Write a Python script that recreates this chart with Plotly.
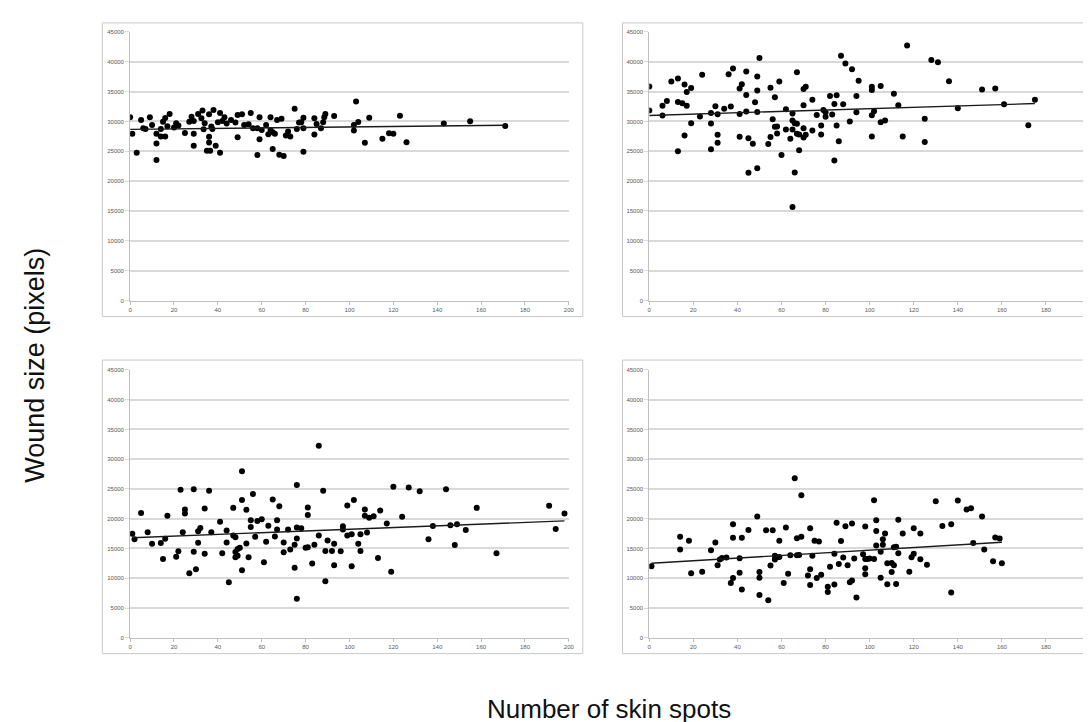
import numpy as np
import plotly.graph_objects as go

# ---- data ----
p1_x = [0, 1, 3, 5, 6, 7, 9, 10, 12, 12, 12, 14, 14, 15, 16, 16, 17, 18, 20, 21, 22, 25, 27, 28, 29, 29, 29,
        31, 32.5, 33, 33.5, 34, 35, 36, 36, 36, 36.5, 37, 37.5, 38, 39, 40, 41, 41, 42, 43, 44, 46, 48, 49, 49,
        51, 52, 54, 55, 56, 58, 58, 59, 59, 60, 62, 63, 64, 64, 65, 65, 66, 67, 68, 69, 70, 71, 72, 73, 75, 76,
        77, 78, 79, 79, 79, 84, 84, 85, 87, 88, 88.5, 89, 93, 102, 102, 103, 104, 107, 109, 115, 118, 120, 123,
        126, 143, 155, 171]
p1_y = [30680, 27920, 24770, 30240, 28860, 28750, 30680, 29410, 27920, 26310, 23550, 28750, 27470, 29960, 30570,
        27470, 29190, 31230, 28970, 29690, 29300, 28080, 29960, 30790, 30070, 27920, 25930, 31230, 30510, 31840,
        28690, 29690, 25100, 31180, 27420, 26480, 25100, 29130, 28750, 31900, 25930, 29850, 24770, 31400, 30070,
        30680, 29630, 30240, 29800, 31070, 27360, 31180, 29410, 29520, 31400, 28860, 24380, 28860, 30680, 27030,
        28580, 29410, 27860, 30680, 28580, 25370, 28190, 27920, 30240, 24430, 30460, 24210, 27640, 28300, 27470,
        32120, 28750, 29800, 29850, 28860, 24930, 30620, 30510, 27810, 29580, 28860, 29850, 30680, 31230, 30900,
        28470, 29410, 33330, 29910, 26420, 30620, 27090, 28030, 27920, 30960, 26530, 29630, 30020, 29240]

p2_x = [0, 0, 6, 6, 8, 10, 13, 13, 13, 15, 16, 16, 17, 17, 19, 19, 23, 24, 28, 28, 28, 30, 31, 31, 31, 34, 36,
        37, 38, 41, 41, 41, 42, 44, 44, 44, 45, 45, 47, 48, 49, 49, 49, 49, 50, 54, 55, 55, 56, 57, 57, 58, 58,
        59, 60, 62, 62, 64, 65, 65, 65, 65, 66, 66, 67, 67, 67, 68, 68, 70, 70, 70, 70, 71, 71, 74, 74, 76, 78,
        78, 79, 80, 80, 82, 83, 84, 84, 85, 85, 86, 87, 88, 89, 91, 92, 94, 94, 95, 101, 101, 101, 101, 102,
        105, 105, 107, 111, 113, 115, 117, 125, 125, 128, 131, 136, 140, 151, 157, 161, 172, 175]
p2_y = [35860, 31810, 32640, 30980, 33420, 36690, 37190, 33250, 24990, 33030, 36190, 27650, 34910, 32640, 35580,
        29700, 30810, 37800, 31420, 29650, 25330, 32530, 31200, 27770, 26440, 32140, 37910, 32480, 38850, 35520,
        31260, 27430, 36240, 38350, 34420, 31640, 27160, 21390, 26270, 33200, 37520, 35190, 31590, 22170, 40620,
        26210, 35630, 27380, 30370, 34030, 29100, 29150, 27990, 36690, 24380, 32030, 28650, 27100, 31310, 30150,
        28650, 15680, 21450, 29700, 38240, 29600, 27930, 27820, 25160, 28870, 32700, 27320, 35410, 35800, 27770,
        33640, 28490, 31090, 29320, 27820, 31920, 30760, 31530, 34250, 31150, 32920, 23440, 34360, 29320, 26660,
        41010, 32860, 39680, 29980, 38740, 34250, 31530, 36800, 35800, 35250, 31040, 27490, 31700, 35910, 29870,
        30150, 34640, 32700, 27490, 42730, 30430, 26550, 40290, 39900, 36740, 32200, 35360, 35520, 32860, 29370,
        33640]

p3_x = [1, 2, 5, 8, 10, 14, 15, 16, 17, 21, 22, 23, 24, 25, 25, 27, 29, 29, 30, 31, 31, 32, 34, 34, 36, 37, 41,
        42, 44, 44, 45, 47, 47, 48, 48, 48, 49, 49, 50, 51, 51, 51, 53, 53, 54, 55, 55, 56, 57, 58, 60, 61, 62,
        63, 65, 66, 67, 67, 68, 70, 70, 72, 73, 75, 75, 76, 76, 76, 76, 78, 80, 81, 81, 81, 83, 84, 86, 86, 88,
        89, 89, 90, 92, 93, 93, 96, 97, 97, 99, 99, 101, 101, 102, 104, 105, 105, 107, 107, 108, 109, 111, 113,
        114, 117, 119, 120, 124, 127, 132, 136, 138, 144, 146, 148, 149, 153, 158, 167, 191, 194, 198]
p3_y = [17460, 16570, 20950, 17730, 15790, 15910, 13250, 16630, 20510, 13630, 14520, 24880, 17730, 21560, 20890,
        10860, 24940, 14460, 11530, 15960, 17900, 18450, 21720, 14130, 24720, 17730, 19510, 14190, 18010, 16020,
        9310, 21830, 17180, 16900, 14410, 13520, 14910, 13800, 15130, 23170, 27990, 11360, 21500, 15850, 13520,
        19730, 18620, 24160, 16960, 19620, 19900, 12690, 16130, 18840, 23220, 17010, 19730, 18180, 22110, 16020,
        14350, 18180, 14850, 11750, 15630, 25660, 18510, 16680, 6540, 18400, 15130, 21890, 20620, 15190, 12470,
        15630, 32250, 17180, 24720, 14580, 9480, 16350, 14580, 15790, 12190, 14520, 18730, 18180, 22220, 17180,
        17400, 12030, 23170, 15790, 17400, 14580, 21560, 20510, 17680, 20170, 20400, 13410, 21390, 19180, 11080,
        25380, 20340, 25270, 24610, 16570, 18790, 24940, 18900, 15570, 19070, 18120, 21830, 14190, 22170, 18290,
        20890]

p4_x = [1, 14, 14, 18, 19, 24, 28, 30, 31, 32, 33, 35, 37, 38, 38, 38, 41, 41, 42, 42, 45, 49, 50, 50, 50, 53,
        54, 55, 56, 57, 57, 58, 59, 59, 61, 62, 63, 64, 66, 67, 67, 68, 69, 69, 72, 73, 73, 73, 74, 75, 76, 77,
        78, 81, 81, 82, 84, 84, 85, 86, 87, 88, 89, 90, 91, 92, 92, 93, 94, 97, 98, 98, 98, 98, 99, 100, 102,
        102, 103, 103, 103, 105, 105, 106, 106, 107, 108, 108, 110, 110, 111, 111, 112, 112, 113, 113, 115, 118,
        119, 120, 120, 123, 123, 126, 130, 133, 137, 137, 140, 144, 146, 147, 151, 152, 156, 157, 159, 160]
p4_y = [12030, 16960, 14850, 16290, 10860, 11080, 14690, 16020, 12190, 13130, 13410, 13470, 9200, 19070, 16790,
        10030, 13360, 10920, 16790, 8090, 18120, 20390, 11030, 10090, 7200, 18070, 6320, 12140, 18070, 13800,
        13130, 13520, 16290, 13580, 9200, 18510, 10750, 13860, 26820, 16740, 13860, 13920, 23950, 16960, 10470,
        18400, 11530, 8850, 13800, 16290, 10030, 16180, 10580, 8580, 7700, 11920, 14130, 8960, 19340, 12410,
        16240, 13470, 18730, 12190, 9310, 9640, 19180, 13300, 6760, 14020, 18680, 13250, 11690, 10690, 13250,
        13300, 23120, 13250, 19730, 17960, 15520, 14460, 10090, 16570, 15630, 17510, 12530, 8990, 12580, 11030,
        12190, 15190, 15300, 9040, 19840, 14190, 17510, 11080, 13520, 18400, 14130, 17510, 13190, 12250, 22940,
        18790, 19070, 7590, 23060, 21560, 21780, 15910, 20390, 14850, 12860, 16850, 16680, 12530]

x_ticks = [0, 20, 40, 60, 80, 100, 120, 140, 160, 180, 200]
y_ticks = [0, 5000, 10000, 15000, 20000, 25000, 30000, 35000, 40000, 45000]

panels = [(p1_x, p1_y), (p2_x, p2_y), (p3_x, p3_y), (p4_x, p4_y)]

W, H = 1091, 722
# plot-area pixel boxes (left, right, top, bottom) and frame boxes
plot_px = [(121, 563, 21, 292), (644, 1088, 21, 292), (121, 563, 362, 632), (644, 1088, 362, 632)]
frame_px = [(93, 577, 12, 308), (617, 1100, 12, 308), (93, 577, 352, 648), (617, 1100, 352, 648)]

fig = go.Figure()
grid_c = "#d9d9d9"
axis_c = "#bfbfbf"
tick_font = dict(family="Liberation Sans, Arial, sans-serif", size=6, color="#595959")

for i, ((xs, ys), (l, r, t, b)) in enumerate(zip(panels, plot_px)):
    n = "" if i == 0 else str(i + 1)
    xs_a = np.array(xs, dtype=float)
    ys_a = np.array(ys, dtype=float)
    fig.add_trace(go.Scatter(x=xs, y=ys, mode="markers", xaxis="x" + n, yaxis="y" + n,
                             marker=dict(color="black", size=6), showlegend=False, hoverinfo="skip"))
    k, c = np.polyfit(xs_a, ys_a, 1)
    xl = [xs_a.min(), xs_a.max()]
    fig.add_trace(go.Scatter(x=xl, y=[c + k * v for v in xl], mode="lines", xaxis="x" + n, yaxis="y" + n,
                             line=dict(color="#1a1a1a", width=1.4), showlegend=False, hoverinfo="skip"))
    fig.layout["xaxis" + n] = dict(domain=[l / W, r / W], anchor="y" + n, range=[0, 200],
                                  tickvals=x_ticks, showgrid=False, zeroline=False,
                                  showline=True, linecolor=axis_c, linewidth=1,
                                  ticklabeloverflow="allow",
                                  ticks="outside", ticklen=3, tickcolor=axis_c, tickfont=tick_font)
    fig.layout["yaxis" + n] = dict(domain=[1 - b / H, 1 - t / H], anchor="x" + n, range=[0, 45000],
                                  tickvals=y_ticks, tickformat="d", showgrid=True, gridcolor=grid_c,
                                  gridwidth=1.5, zeroline=False,
                                  showline=True, linecolor=axis_c, linewidth=1,
                                  ticks="outside", ticklen=4, tickcolor=grid_c, tickfont=tick_font)

for (l, r, t, b) in frame_px:
    fig.add_shape(type="rect", xref="paper", yref="paper", x0=l / W, x1=r / W, y0=1 - b / H, y1=1 - t / H,
                  line=dict(color="#c8c8c8", width=1), fillcolor="rgba(0,0,0,0)", layer="below")

fig.add_annotation(text="Wound size (pixels)", xref="paper", yref="paper", x=25 / W, y=1 - 357 / H,
                   textangle=-90, showarrow=False,
                   font=dict(family="Liberation Sans, Arial, sans-serif", size=27, color="#111111"),
                   xanchor="center", yanchor="middle")
fig.add_annotation(text="Number of skin spots", xref="paper", yref="paper", x=603 / W, y=0,
                   showarrow=False,
                   font=dict(family="Liberation Sans, Arial, sans-serif", size=26, color="#111111"),
                   xanchor="center", yanchor="bottom", yshift=1)

fig.update_layout(width=W, height=H, margin=dict(l=0, r=0, t=0, b=0),
                  paper_bgcolor="white", plot_bgcolor="white")

fig.write_html("out.html")
